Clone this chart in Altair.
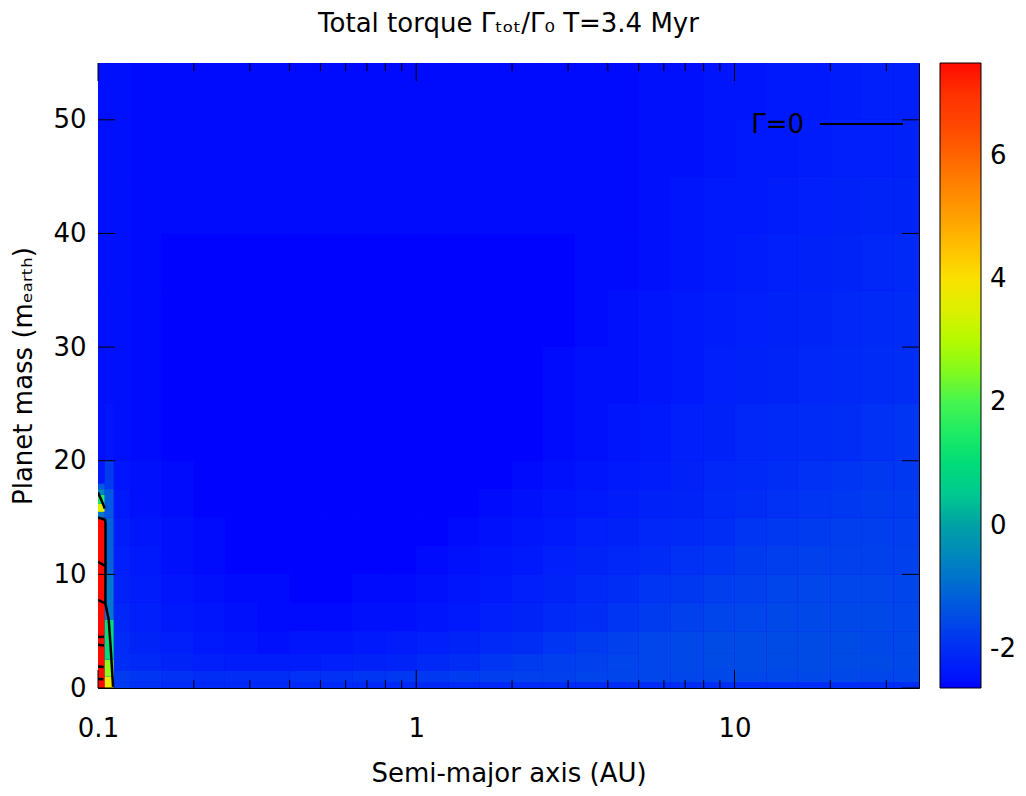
import altair as alt
import pandas as pd

# ---- grid edges (AU / Earth masses) ----
x_edges = [0.112, 0.126, 0.158, 0.2, 0.25, 0.316, 0.4, 0.5, 0.63, 0.8, 1.0, 1.26, 1.58,
           2.0, 2.5, 3.16, 4.0, 5.0, 6.3, 8.0, 10.0, 12.6, 15.8, 20.0, 25.0, 31.6, 38.0]
y_edges = [0, 0.5, 1.5, 3, 5, 7.5, 10, 12.5, 15, 17.5, 20, 25, 30, 35, 40, 45, 50, 55]

# ---- torque values per mass row (bottom -> top), one value per x column ----
row_00 = [-1.80,-1.95,-2.05,-2.10,-2.10, -2.10,-2.10,-2.10,-2.10,-2.10, -2.10,-2.10,-2.10,-2.05,-2.05, -2.05,-2.05,-2.05,-2.00,-2.00, -2.00,-2.00,-2.00,-2.00,-2.00,-2.00]
row_01 = [-1.80,-1.90,-1.95,-2.00,-2.00, -2.00,-1.95,-1.95,-1.90,-1.85, -1.85,-1.80,-1.75,-1.70,-1.70, -1.65,-1.65,-1.60,-1.60,-1.55, -1.55,-1.55,-1.55,-1.55,-1.60,-1.60]
row_02 = [-2.00,-2.10,-2.20,-2.30,-2.35, -2.35,-2.35,-2.30,-2.25,-2.20, -2.10,-2.00,-1.90,-1.80,-1.75, -1.70,-1.65,-1.60,-1.55,-1.50, -1.50,-1.50,-1.50,-1.50,-1.50,-1.55]
row_03 = [-2.05,-2.20,-2.30,-2.40,-2.45, -2.50,-2.45,-2.45,-2.40,-2.35, -2.30,-2.20,-2.10,-2.00,-1.90, -1.80,-1.70,-1.60,-1.55,-1.50, -1.50,-1.50,-1.50,-1.50,-1.55,-1.55]
row_04 = [-2.15,-2.30,-2.40,-2.45,-2.50, -2.55,-2.55,-2.55,-2.50,-2.50, -2.45,-2.40,-2.30,-2.20,-2.10, -2.00,-1.90,-1.80,-1.70,-1.65, -1.60,-1.55,-1.55,-1.55,-1.55,-1.60]
row_05 = [-2.25,-2.35,-2.45,-2.50,-2.55, -2.55,-2.60,-2.60,-2.55,-2.55, -2.50,-2.45,-2.40,-2.30,-2.20, -2.10,-2.00,-1.90,-1.85,-1.75, -1.70,-1.65,-1.60,-1.60,-1.60,-1.65]
row_06 = [-2.30,-2.40,-2.50,-2.55,-2.60, -2.60,-2.60,-2.60,-2.60,-2.60, -2.55,-2.50,-2.45,-2.40,-2.30, -2.20,-2.15,-2.05,-1.95,-1.90, -1.80,-1.75,-1.70,-1.70,-1.70,-1.70]
row_07 = [-2.35,-2.45,-2.50,-2.55,-2.60, -2.60,-2.60,-2.60,-2.60,-2.60, -2.60,-2.55,-2.50,-2.45,-2.40, -2.30,-2.25,-2.15,-2.10,-2.00, -1.90,-1.85,-1.80,-1.75,-1.75,-1.75]
row_08 = [-2.40,-2.50,-2.55,-2.60,-2.60, -2.60,-2.60,-2.60,-2.60,-2.60, -2.60,-2.60,-2.55,-2.50,-2.45, -2.40,-2.35,-2.25,-2.20,-2.10, -2.00,-1.95,-1.90,-1.85,-1.80,-1.80]
row_09 = [-2.45,-2.50,-2.55,-2.60,-2.60, -2.60,-2.60,-2.60,-2.60,-2.60, -2.60,-2.60,-2.60,-2.55,-2.50, -2.45,-2.40,-2.35,-2.25,-2.15, -2.10,-2.00,-1.95,-1.90,-1.85,-1.85]
row_10 = [-2.50,-2.55,-2.60,-2.60,-2.60, -2.60,-2.60,-2.60,-2.60,-2.60, -2.60,-2.60,-2.60,-2.60,-2.55, -2.50,-2.45,-2.40,-2.30,-2.25, -2.15,-2.10,-2.05,-2.00,-1.95,-1.90]
row_11 = [-2.50,-2.55,-2.60,-2.60,-2.60, -2.60,-2.60,-2.60,-2.60,-2.60, -2.60,-2.60,-2.60,-2.60,-2.55, -2.50,-2.50,-2.45,-2.40,-2.30, -2.25,-2.20,-2.15,-2.10,-2.05,-2.00]
row_12 = [-2.50,-2.55,-2.60,-2.60,-2.60, -2.60,-2.60,-2.60,-2.60,-2.60, -2.60,-2.60,-2.60,-2.60,-2.60, -2.55,-2.50,-2.45,-2.40,-2.35, -2.30,-2.25,-2.20,-2.15,-2.10,-2.05]
row_13 = [-2.50,-2.55,-2.60,-2.60,-2.60, -2.60,-2.60,-2.60,-2.60,-2.60, -2.60,-2.60,-2.60,-2.60,-2.60, -2.55,-2.55,-2.50,-2.45,-2.40, -2.35,-2.30,-2.25,-2.20,-2.15,-2.10]
row_14 = [-2.50,-2.55,-2.55,-2.55,-2.55, -2.55,-2.55,-2.55,-2.55,-2.55, -2.55,-2.55,-2.55,-2.55,-2.55, -2.55,-2.55,-2.50,-2.45,-2.40, -2.40,-2.35,-2.30,-2.25,-2.20,-2.20]
row_15 = [-2.50,-2.55,-2.55,-2.55,-2.55, -2.55,-2.55,-2.55,-2.55,-2.55, -2.55,-2.55,-2.55,-2.55,-2.55, -2.55,-2.55,-2.50,-2.50,-2.45, -2.40,-2.40,-2.35,-2.30,-2.30,-2.25]
row_16 = [-2.50,-2.55,-2.55,-2.55,-2.55, -2.55,-2.55,-2.55,-2.55,-2.55, -2.55,-2.55,-2.55,-2.55,-2.55, -2.55,-2.55,-2.50,-2.50,-2.45, -2.45,-2.40,-2.40,-2.35,-2.30,-2.30]
rows = [row_00, row_01, row_02, row_03, row_04, row_05, row_06, row_07, row_08,
        row_09, row_10, row_11, row_12, row_13, row_14, row_15, row_16]

# ---- innermost strip columns (finer in mass) ----
stripA_x = [0.1, 0.105]
stripA_y = [0, 15, 15.5, 16.2, 17.0, 17.5, 18, 20, 25, 30, 35, 40, 45, 50, 55]
stripA_v = [9.0, -0.8, 3.5, 1.5, -0.5, -1.3, -2.4, -2.5, -2.5, -2.5, -2.5, -2.5, -2.5, -2.5]
stripB_x = [0.105, 0.112]
stripB_y = [0, 1, 2.5, 6, 10, 15, 17.5, 20, 25, 30, 35, 40, 45, 50, 55]
stripB_v = [3.8, 2.6, 1.0, -0.8, -1.1, -1.3, -1.8, -2.45, -2.5, -2.5, -2.5, -2.5, -2.5, -2.5]

# ---- Gamma = 0 contour pieces ----
cont_x = [0.1, 0.1022, 0.104, 0.105,
          0.1, 0.1052, 0.1056, 0.1056, 0.1055, 0.1081, 0.1099, 0.1115,
          0.1, 0.1054,
          0.1, 0.1054,
          0.1, 0.1044,
          0.1, 0.1044,
          0.1, 0.1042,
          0.1, 0.104]
cont_y = [17.2, 16.6, 16.1, 15.8,
          15.0, 14.8, 14.5, 11.0, 7.45, 5.98, 3.05, 0.1,
          11.1, 10.75,
          7.75, 7.45,
          4.5, 4.5,
          3.8, 3.75,
          1.9, 1.85,
          0.8, 0.78]
cont_seg = [1, 1, 1, 1,
            2, 2, 2, 2, 2, 2, 2, 2,
            3, 3,
            4, 4,
            5, 5,
            6, 6,
            7, 7,
            8, 8]
key_label = ["Γ=0"]

# ---- axis ticks ----
x_major = [0.1, 1, 10]
x_minor = [0.2, 0.3, 0.4, 0.5, 0.6, 0.7, 0.8, 0.9, 2, 3, 4, 5, 6, 7, 8, 9, 20, 30]
y_major = [0, 10, 20, 30, 40, 50]
cb_ticks = [-2, 0, 2, 4, 6]

# ---- palette ----
cb_domain = [-2.63, -2.0, -1.5, -1.0, -0.5, 0.0, 0.5, 1.0, 1.5, 2.0, 2.5, 3.0, 3.5, 4.0, 5.0, 6.0, 6.5, 7.5]
cb_range = ["#0000ff", "#002df5", "#004be6", "#0069d2", "#0087be", "#00a0a5", "#00c891", "#00dc78",
            "#1eeb64", "#46f550", "#82fa1e", "#b4fa00", "#dcf000", "#fae100", "#ffa000", "#ff6400",
            "#ff4600", "#ff0a00"]

# ---- build tables ----
recs = []
for j, row in enumerate(rows):
    for i, v in enumerate(row):
        recs.append({"x0": x_edges[i], "x1": x_edges[i + 1],
                     "y0": y_edges[j], "y1": y_edges[j + 1], "v": v})
for xs, ys, vs in [(stripA_x, stripA_y, stripA_v), (stripB_x, stripB_y, stripB_v)]:
    for j, v in enumerate(vs):
        recs.append({"x0": xs[0], "x1": xs[1], "y0": ys[j], "y1": ys[j + 1], "v": v})
cells_df = pd.DataFrame(recs)

cont_df = pd.DataFrame({"x0": cont_x, "y0": cont_y, "seg": cont_seg,
                        "k": list(range(len(cont_x)))})
key_df = pd.DataFrame({"lab": key_label})

W, H = 821, 625
FONT = "DejaVu Sans"
FS = 26

xscale = alt.Scale(type="log", domain=[0.1, 38], nice=False)
yscale = alt.Scale(domain=[0, 55], nice=False, zero=False)
xaxis = alt.Axis(values=x_major, format="~g", ticks=False, domain=False, grid=False,
                 labelFlush=False, labelPadding=27, title="Semi-major axis (AU)",
                 titleBaseline="alphabetic", titleY=93, titleX=W / 2, titleAnchor="middle",
                 labelFont=FONT, labelFontSize=FS, labelColor="black",
                 titleFont=FONT, titleFontSize=FS, titleColor="black", titleFontWeight="normal")
yaxis = alt.Axis(values=y_major, ticks=False, domain=False, grid=False, labelFlush=False,
                 labelPadding=12, title="Planet mass (mₑₐᵣₜₕ)", titleAngle=270,
                 titleBaseline="alphabetic", titleX=-67, titleY=H / 2, titleAlign="center",
                 labelFont=FONT, labelFontSize=FS, labelColor="black",
                 titleFont=FONT, titleFontSize=FS, titleColor="black", titleFontWeight="normal")

cb_label = "datum.value < 0 ? '-' + abs(datum.value) : '\u2008' + datum.value"

cells = alt.Chart(cells_df).mark_rect(strokeWidth=0).encode(
    x=alt.X("x0:Q", scale=xscale, axis=xaxis),
    x2="x1:Q",
    y=alt.Y("y0:Q", scale=yscale, axis=yaxis),
    y2="y1:Q",
    color=alt.Color("v:Q",
                    scale=alt.Scale(domain=cb_domain, range=cb_range, clamp=True),
                    legend=alt.Legend(orient="none", legendX=842, legendY=0, direction="vertical",
                                      gradientLength=H, gradientThickness=41, values=cb_ticks,
                                      labelExpr=cb_label,
                                      labelFontSize=FS, labelAlign="left", labelOffset=9,
                                      labelOverlap=False, title=None,
                                      gradientStrokeColor="black", gradientStrokeWidth=1,
                                      padding=0, labelColor="black", labelFont=FONT)),
)

contours = alt.Chart(cont_df).mark_line(strokeWidth=2.5, clip=True, color="black").encode(
    x=alt.X("x0:Q", scale=xscale, axis=xaxis),
    y=alt.Y("y0:Q", scale=yscale, axis=yaxis),
    detail="seg:N",
    order="k:Q",
)

# key for the contour line (label left of sample line, as in gnuplot)
key_text = alt.Chart(key_df).mark_text(align="right", baseline="middle", fontSize=FS,
                                       font=FONT, color="black").encode(
    text="lab:N", x=alt.value(706), y=alt.value(62))
key_line = alt.Chart(key_df).mark_rule(color="black", strokeWidth=2).encode(
    x=alt.value(722), x2=alt.value(805), y=alt.value(61))

xmaj_df = pd.DataFrame({"x0": x_major})
xmin_df = pd.DataFrame({"x0": x_minor})
ymaj_df = pd.DataFrame({"y0": y_major})

def xticks(df, y_from, y_to):
    return alt.Chart(df).mark_rule(color="black", strokeWidth=1).encode(
        x=alt.X("x0:Q", scale=xscale, axis=xaxis), y=alt.value(y_from), y2=alt.value(y_to))

def yticks(x_from, x_to):
    return alt.Chart(ymaj_df).mark_rule(color="black", strokeWidth=1).encode(
        y=alt.Y("y0:Q", scale=yscale, axis=yaxis), x=alt.value(x_from), x2=alt.value(x_to))

tick_layers = [
    xticks(xmaj_df, H, H - 18), xticks(xmin_df, H, H - 8),
    xticks(xmaj_df, 0, 18), xticks(xmin_df, 0, 8),
    yticks(0, 17), yticks(W - 17, W),
]

chart = alt.layer(cells, contours, *tick_layers, key_text, key_line).properties(
    width=W, height=H,
    title=alt.Title("Total torque Γₜₒₜ/Γ₀ T=3.4 Myr", fontSize=FS, fontWeight="normal",
                    font=FONT, color="black", anchor="middle", frame="group", offset=26),
    autosize=alt.AutoSizeParams(type="none"),
    padding={"left": 90, "top": 55, "right": 99, "bottom": 99},
    background="white",
).configure_view(stroke="black", strokeWidth=1, fill="#0410fa").configure_axis(
    labelFont=FONT, labelFontSize=FS, labelColor="black",
    titleFont=FONT, titleFontSize=FS, titleColor="black", titleFontWeight="normal",
)

chart.save("out.html", embed_options={"renderer": "svg", "actions": False})
